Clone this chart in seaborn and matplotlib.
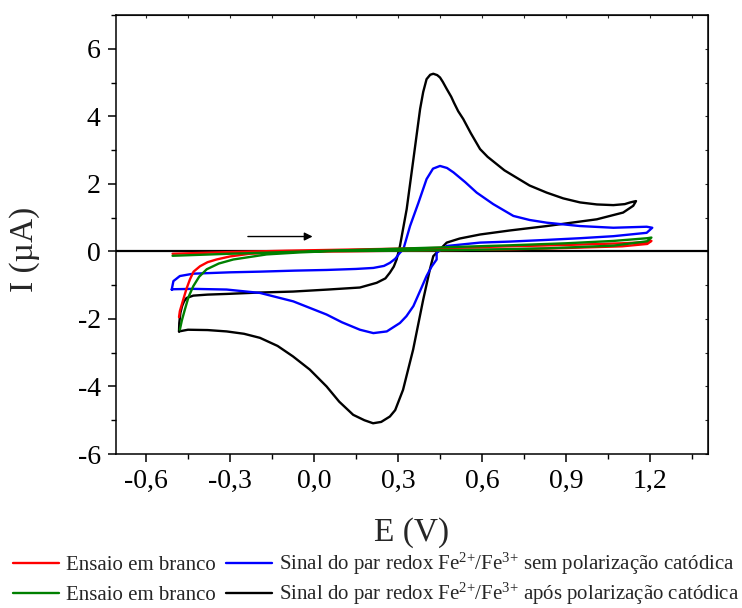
import matplotlib
matplotlib.use("Agg")
import matplotlib.pyplot as plt
import seaborn as sns
import pandas as pd
from matplotlib.ticker import MultipleLocator, FuncFormatter

# Cyclic voltammograms: potential E (V) and current I (µA)
# Blank runs: forward sweep then reverse sweep ending in the hydrogen region
red_fwd_E = [-0.505, -0.3, -0.1, 0.1, 0.3, 0.5, 0.7, 0.9, 1.1, 1.18, 1.205]
red_fwd_I = [-0.07, -0.02, 0.02, 0.05, 0.08, 0.11, 0.15, 0.19, 0.24, 0.27, 0.31]
red_rev_E = [1.205, 1.19, 1.1, 0.9, 0.7, 0.5, 0.3, 0.1, -0.05, -0.15, -0.229,
             -0.3, -0.348, -0.38, -0.407, -0.43, -0.443, -0.455, -0.467, -0.479, -0.482]
red_rev_I = [0.31, 0.22, 0.15, 0.1, 0.06, 0.04, 0.02, 0.0, -0.01, -0.04, -0.07,
             -0.15, -0.24, -0.32, -0.44, -0.6, -0.83, -1.1, -1.43, -1.77, -1.95]

green_fwd_E = [-0.505, -0.3, -0.1, 0.1, 0.3, 0.5, 0.7, 0.9, 1.07, 1.19, 1.205]
green_fwd_I = [-0.13, -0.07, -0.02, 0.03, 0.08, 0.13, 0.18, 0.24, 0.31, 0.39, 0.41]
green_rev_E = [1.205, 1.19, 1.07, 0.83, 0.6, 0.3, 0.07, -0.05, -0.169, -0.288, -0.34,
               -0.383, -0.41, -0.431, -0.448, -0.461, -0.472, -0.479]
green_rev_I = [0.41, 0.3, 0.17, 0.09, 0.05, 0.02, 0.01, -0.03, -0.09, -0.24, -0.36,
               -0.53, -0.75, -1.03, -1.35, -1.72, -2.05, -2.32]

# Fe2+/Fe3+ couple without cathodic polarization (closed loop)
blue_E = [-0.508, -0.502, -0.479, -0.431, -0.3, -0.193, -0.07, 0.045, 0.15, 0.212,
          0.25, 0.271, 0.29, 0.307, 0.319, 0.343, 0.373, 0.402, 0.425, 0.45, 0.475,
          0.498, 0.54, 0.581, 0.64, 0.712, 0.77, 0.831, 0.95, 1.069, 1.188, 1.208,
          1.188, 1.069, 0.95, 0.831, 0.7, 0.593, 0.474, 0.438, 0.438, 0.42, 0.402,
          0.38, 0.355, 0.33, 0.307, 0.26, 0.212, 0.164, 0.1, 0.045, -0.074, -0.193,
          -0.312, -0.431, -0.5, -0.508]
blue_I = [-1.13, -0.88, -0.73, -0.66, -0.62, -0.6, -0.57, -0.55, -0.52, -0.49,
          -0.43, -0.34, -0.22, -0.04, 0.06, 0.75, 1.44, 2.14, 2.45, 2.53, 2.47,
          2.34, 2.05, 1.74, 1.4, 1.05, 0.93, 0.85, 0.75, 0.7, 0.73, 0.7,
          0.55, 0.45, 0.39, 0.34, 0.29, 0.26, 0.16, -0.04, -0.24, -0.45, -0.73,
          -1.15, -1.62, -1.92, -2.12, -2.37, -2.42, -2.32, -2.1, -1.87, -1.48, -1.23,
          -1.13, -1.11, -1.12, -1.13]

# Fe2+/Fe3+ couple after cathodic polarization (closed loop)
black_E = [-0.482, -0.481, -0.477, -0.471, -0.464, -0.455, -0.431, -0.38, -0.312, -0.2,
           -0.075, 0.05, 0.164, 0.224, 0.255, 0.271, 0.285, 0.295, 0.307, 0.331,
           0.355, 0.379, 0.39, 0.402, 0.415, 0.426, 0.44, 0.45, 0.46, 0.474, 0.49,
           0.5, 0.515, 0.533, 0.56, 0.593, 0.62, 0.65, 0.68, 0.712,
           0.77, 0.831, 0.89, 0.95, 1.01, 1.069, 1.11, 1.129, 1.15,
           1.14, 1.104, 1.01, 0.92, 0.831, 0.7, 0.593, 0.52, 0.474, 0.45, 0.426,
           0.414, 0.39, 0.354, 0.318, 0.29, 0.271, 0.24, 0.211, 0.18, 0.14, 0.09,
           0.045, -0.015, -0.075, -0.13, -0.193, -0.25, -0.312, -0.38, -0.45, -0.482]
black_I = [-2.37, -2.12, -1.82, -1.62, -1.48, -1.38, -1.31, -1.28, -1.26, -1.22,
           -1.19, -1.13, -1.07, -0.93, -0.8, -0.63, -0.45, -0.24, 0.16, 1.25,
           2.73, 4.22, 4.72, 5.1, 5.23, 5.26, 5.22, 5.15, 5.02, 4.81, 4.58,
           4.4, 4.15, 3.92, 3.5, 3.03, 2.8, 2.6, 2.4, 2.24,
           1.95, 1.74, 1.57, 1.45, 1.39, 1.37, 1.4, 1.45, 1.49,
           1.35, 1.15, 0.95, 0.85, 0.75, 0.62, 0.5, 0.38, 0.26, 0.06, -0.14,
           -0.53, -1.43, -2.91, -4.1, -4.7, -4.89, -5.05, -5.09, -5.0, -4.84, -4.45,
           -4.0, -3.5, -3.11, -2.8, -2.56, -2.44, -2.37, -2.33, -2.32, -2.37]

label_blank = "Ensaio em branco"
label_sem = "Sinal do par redox Fe$^{2{+}}$/Fe$^{3{+}}$ sem polarização catódica"
label_apos = "Sinal do par redox Fe$^{2{+}}$/Fe$^{3{+}}$ após polarização catódica"

x_ticks = [-0.6, -0.3, 0.0, 0.3, 0.6, 0.9, 1.2]
y_ticks = [-6, -4, -2, 0, 2, 4, 6]

sns.set_style("ticks")
plt.rcParams["font.family"] = ["Liberation Serif", "DejaVu Serif"]
plt.rcParams["mathtext.fontset"] = "custom"
plt.rcParams["mathtext.rm"] = "Liberation Serif"
plt.rcParams["mathtext.it"] = "Liberation Serif:italic"
plt.rcParams["axes.unicode_minus"] = False

fig = plt.figure(figsize=(7.42, 6.08), dpi=100)
ax = fig.add_axes([116 / 742, 1 - 454 / 608, (708 - 116) / 742, (454 - 15) / 608])

def curve(E, I):
    return pd.DataFrame({"E": E, "I": I})

lw = 1.7
red_df = pd.concat([curve(red_fwd_E, red_fwd_I), curve(red_rev_E, red_rev_I)], ignore_index=True)
green_df = pd.concat([curve(green_fwd_E, green_fwd_I), curve(green_rev_E, green_rev_I)], ignore_index=True)

ax.axhline(0, color="black", lw=1.6, zorder=1)
sns.lineplot(data=curve(black_E, black_I), x="E", y="I", sort=False, estimator=None,
             color="black", lw=lw, ax=ax, label=label_apos)
sns.lineplot(data=curve(blue_E, blue_I), x="E", y="I", sort=False, estimator=None,
             color="#0000ff", lw=lw, ax=ax, label=label_sem)
sns.lineplot(data=red_df, x="E", y="I", sort=False, estimator=None,
             color="#ff0000", lw=lw, ax=ax, label=label_blank)
sns.lineplot(data=green_df, x="E", y="I", sort=False, estimator=None,
             color="#008000", lw=lw, ax=ax, label=label_blank)

# scan direction arrow
ax.annotate("", xy=(-0.005, 0.44), xytext=(-0.236, 0.44),
            arrowprops=dict(arrowstyle="-|>", color="black", lw=1.0,
                            mutation_scale=12, shrinkA=0, shrinkB=0))

ax.set_xlim(-0.707, 1.407)
ax.set_ylim(-6, 7)
ax.set_xticks(x_ticks)
ax.set_yticks(y_ticks)
ax.xaxis.set_minor_locator(MultipleLocator(0.15))
ax.yaxis.set_minor_locator(MultipleLocator(1))
ax.xaxis.set_major_formatter(FuncFormatter(lambda v, p: f"{v:.1f}".replace(".", ",")))
ax.yaxis.set_major_formatter(FuncFormatter(lambda v, p: f"{v:.0f}"))

for s in ax.spines.values():
    s.set_linewidth(1.1)
    s.set_color("black")
ax.tick_params(which="major", direction="out", length=6, width=1.1,
               labelsize=20, colors="black", pad=5)
ax.tick_params(which="minor", direction="out", length=3.5, width=1.0, colors="black")

# short inward ticks on the top and right frame
top = ax.secondary_xaxis("top")
top.set_xticks(x_ticks)
top.xaxis.set_minor_locator(MultipleLocator(0.15))
top.tick_params(which="both", direction="in", length=2, width=0.8, labeltop=False)
right = ax.secondary_yaxis("right")
right.set_yticks(y_ticks)
right.yaxis.set_minor_locator(MultipleLocator(1))
right.tick_params(which="both", direction="in", length=2, width=0.8, labelright=False)

ax.set_xlabel("E (V)", fontsize=24)
ax.set_ylabel("I (µA)", fontsize=24)
ax.xaxis.set_label_coords(0.5, -0.143)
ax.yaxis.set_label_coords(-0.128, 0.465)

ax.get_legend().remove()
h, l = ax.get_legend_handles_labels()
legend_kw = dict(ncol=2, loc="center left", frameon=False, fontsize=15,
                 handlelength=2.2, handletextpad=0.33, columnspacing=0.5,
                 borderpad=0, borderaxespad=0)
# two legend rows, each holding one blank run and one redox signal
fig.legend([h[2], h[1]], [l[2], l[1]], bbox_to_anchor=(13 / 742, 1 - 564 / 608), **legend_kw)
fig.legend([h[3], h[0]], [l[3], l[0]], bbox_to_anchor=(13 / 742, 1 - 594 / 608), **legend_kw)

fig.savefig("out.png", dpi=100)
